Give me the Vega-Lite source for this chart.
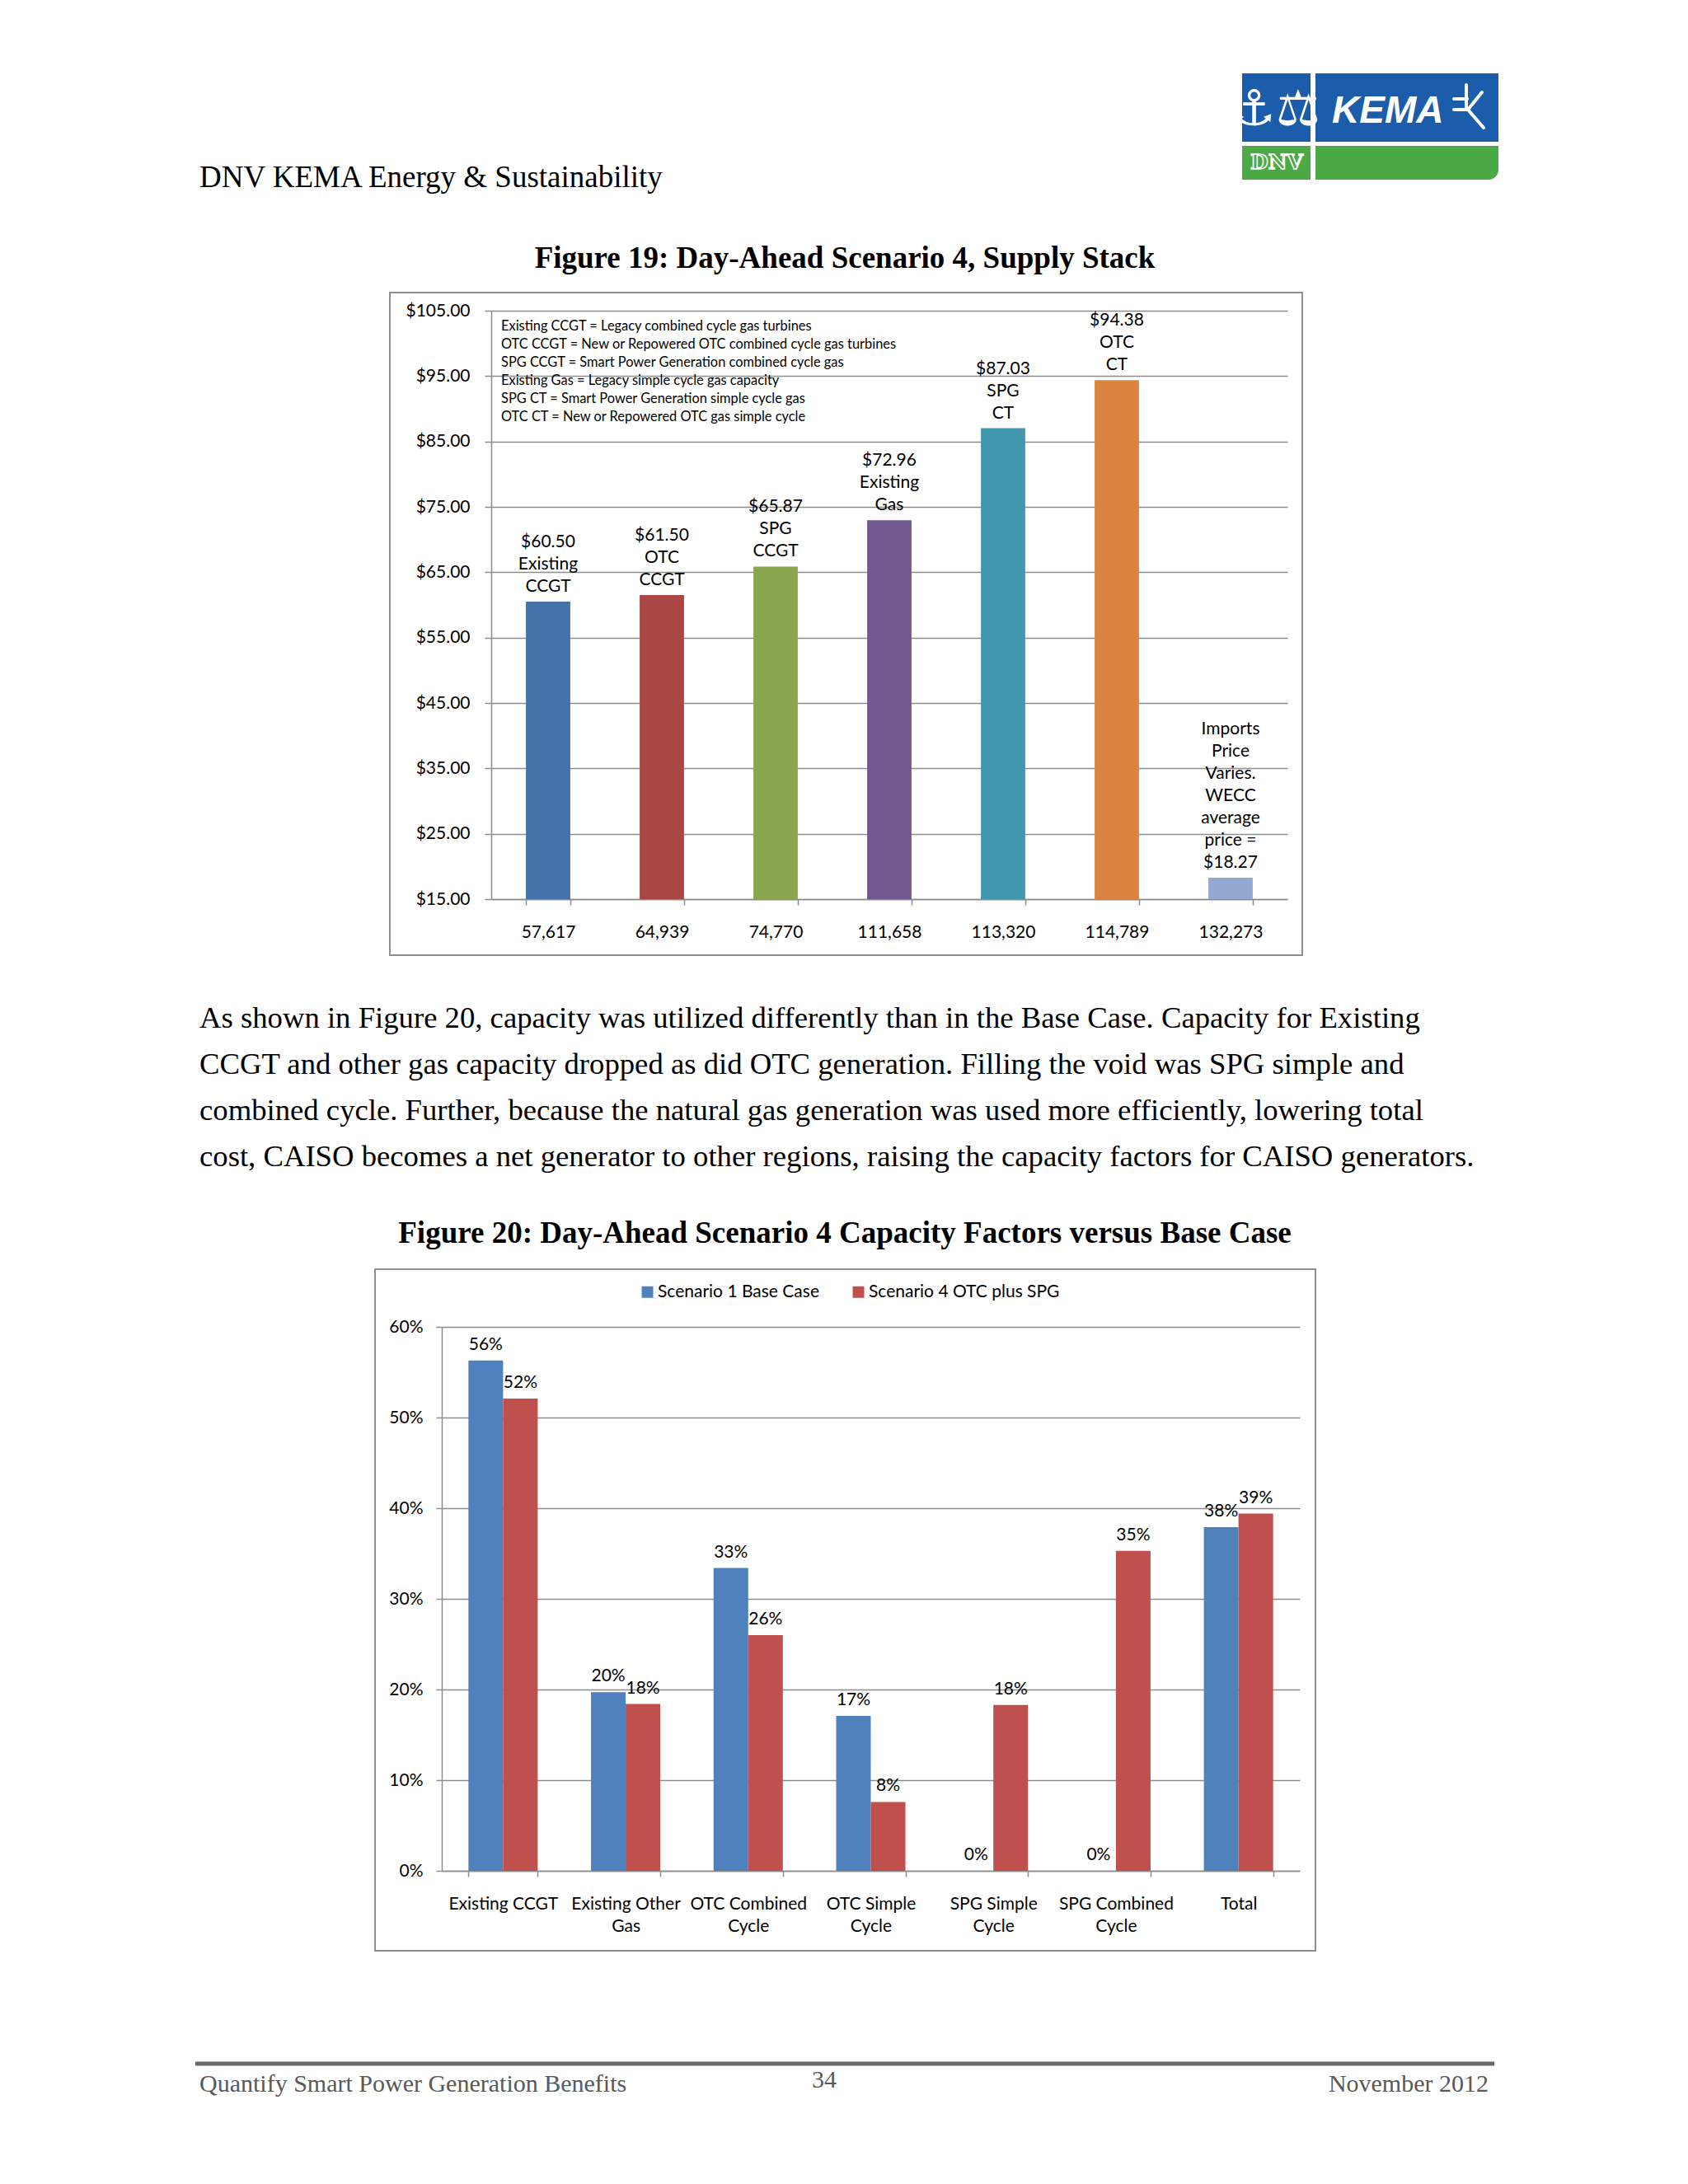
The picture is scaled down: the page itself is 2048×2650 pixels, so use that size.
{
  "$schema": "https://vega.github.io/schema/vega-lite/v6.json",
  "width": 2048,
  "height": 2650,
  "autosize": {"type": "none"},
  "padding": 0,
  "background": "#ffffff",
  "config": {
    "view": {"stroke": null},
    "font": "Lato",
    "axis": {"labelFont": "Lato", "labelFontSize": 21, "labelColor": "#000000", "domainColor": "#8c8c8c", "tickColor": "#8c8c8c", "gridColor": "#8c8c8c", "domainWidth": 1.5, "tickWidth": 1.5, "gridWidth": 1.5}
  },
  "datasets": {
    "supply": [
      {"mw": "57,617", "tech": "Existing CCGT", "price": 60.50, "label": ["$60.50", "Existing", "CCGT"]},
      {"mw": "64,939", "tech": "OTC CCGT", "price": 61.50, "label": ["$61.50", "OTC", "CCGT"]},
      {"mw": "74,770", "tech": "SPG CCGT", "price": 65.87, "label": ["$65.87", "SPG", "CCGT"]},
      {"mw": "111,658", "tech": "Existing Gas", "price": 72.96, "label": ["$72.96", "Existing", "Gas"]},
      {"mw": "113,320", "tech": "SPG CT", "price": 87.03, "label": ["$87.03", "SPG", "CT"]},
      {"mw": "114,789", "tech": "OTC CT", "price": 94.38, "label": ["$94.38", "OTC", "CT"]},
      {"mw": "132,273", "tech": "Imports", "price": 18.27, "label": ["Imports", "Price", "Varies.", "WECC", "average", "price =", "$18.27"]}
    ],
    "cf": [
      {"cat": "Existing CCGT", "scenario": "Scenario 1 Base Case", "cf": 0.563},
      {"cat": "Existing CCGT", "scenario": "Scenario 4 OTC plus SPG", "cf": 0.521},
      {"cat": "Existing Other Gas", "scenario": "Scenario 1 Base Case", "cf": 0.197},
      {"cat": "Existing Other Gas", "scenario": "Scenario 4 OTC plus SPG", "cf": 0.184},
      {"cat": "OTC Combined Cycle", "scenario": "Scenario 1 Base Case", "cf": 0.334},
      {"cat": "OTC Combined Cycle", "scenario": "Scenario 4 OTC plus SPG", "cf": 0.260},
      {"cat": "OTC Simple Cycle", "scenario": "Scenario 1 Base Case", "cf": 0.171},
      {"cat": "OTC Simple Cycle", "scenario": "Scenario 4 OTC plus SPG", "cf": 0.076},
      {"cat": "SPG Simple Cycle", "scenario": "Scenario 1 Base Case", "cf": 0},
      {"cat": "SPG Simple Cycle", "scenario": "Scenario 4 OTC plus SPG", "cf": 0.183},
      {"cat": "SPG Combined Cycle", "scenario": "Scenario 1 Base Case", "cf": 0},
      {"cat": "SPG Combined Cycle", "scenario": "Scenario 4 OTC plus SPG", "cf": 0.353},
      {"cat": "Total", "scenario": "Scenario 1 Base Case", "cf": 0.379},
      {"cat": "Total", "scenario": "Scenario 4 OTC plus SPG", "cf": 0.394}
    ],
    "para": [
      {"line": 1, "text": "As shown in Figure 20, capacity was utilized differently than in the Base Case. Capacity for Existing"},
      {"line": 2, "text": "CCGT and other gas capacity dropped as did OTC generation. Filling the void was SPG simple and"},
      {"line": 3, "text": "combined cycle. Further, because the natural gas generation was used more efficiently, lowering total"},
      {"line": 4, "text": "cost, CAISO becomes a net generator to other regions, raising the capacity factors for CAISO generators."}
    ]
  },
  "layer": [
    {
      "data": {"name": "supply"},
      "encoding": {
        "x": {"field": "mw", "type": "nominal", "sort": null,
          "scale": {"range": [596, 1562], "paddingInner": 0.61, "paddingOuter": 0.305},
          "axis": {"orient": "bottom", "offset": -1559, "title": null, "labelAngle": 0, "labelPadding": 22, "tickBand": "extent", "tickSize": 7, "grid": false, "labelOverlap": false}},
        "y": {"field": "price", "type": "quantitative",
          "scale": {"domain": [15, 105], "range": [1091, 377], "nice": false, "zero": false},
          "axis": {"orient": "left", "offset": -596, "title": null, "values": [15, 25, 35, 45, 55, 65, 75, 85, 95, 105], "format": "$.2f", "labelPadding": 18, "tickSize": 8, "grid": true}}
      },
      "layer": [
        {"mark": {"type": "bar"},
         "encoding": {
           "y2": {"datum": 15},
           "color": {"field": "tech", "type": "nominal", "sort": null, "legend": null,
             "scale": {"range": ["#4572A7", "#AA4643", "#89A54E", "#71588F", "#4198AF", "#DB843D", "#93A9CF"]}}}},
        {"transform": [{"filter": "datum.tech != 'Imports'"}],
         "mark": {"type": "text", "baseline": "bottom", "dy": -62, "font": "Lato", "fontSize": 21, "lineHeight": 27, "color": "#000000"},
         "encoding": {"text": {"field": "label"}}},
        {"transform": [{"filter": "datum.tech == 'Imports'"}],
         "mark": {"type": "text", "baseline": "bottom", "dy": -170, "font": "Lato", "fontSize": 21, "lineHeight": 27, "color": "#000000"},
         "encoding": {"text": {"field": "label"}}}
      ]
    },
    {
      "data": {"name": "cf"},
      "encoding": {
        "x": {"field": "cat", "type": "nominal", "sort": null,
          "scale": {"range": [536, 1577], "paddingInner": 0.435, "paddingOuter": 0.2175},
          "axis": {"orient": "bottom", "offset": -380, "title": null, "labelAngle": 0, "labelPadding": 22, "tickBand": "extent", "tickSize": 7, "grid": false, "labelOverlap": false, "labelLineHeight": 27, "labelLimit": 400,
            "labelExpr": "indexof(['Existing CCGT', 'Total'], datum.label) >= 0 ? datum.label : [slice(datum.label, 0, lastindexof(datum.label, ' ')), slice(datum.label, lastindexof(datum.label, ' ') + 1)]"}},
        "xOffset": {"field": "scenario", "type": "nominal"},
        "y": {"field": "cf", "type": "quantitative",
          "scale": {"domain": [0, 0.6], "range": [2270, 1610], "nice": false, "zero": false},
          "axis": {"orient": "left", "offset": -536, "title": null, "values": [0, 0.1, 0.2, 0.3, 0.4, 0.5, 0.6], "format": ".0%", "labelPadding": 16, "tickSize": 7, "grid": true}}
      },
      "layer": [
        {"mark": {"type": "bar"},
         "encoding": {
           "y2": {"datum": 0},
           "color": {"field": "scenario", "type": "nominal",
             "scale": {"domain": ["Scenario 1 Base Case", "Scenario 4 OTC plus SPG"], "range": ["#4F81BD", "#C0504D"]},
             "legend": {"orient": "none", "legendX": 775, "legendY": 1557, "direction": "horizontal", "title": null, "symbolType": "square", "symbolSize": 196, "symbolStrokeWidth": 0, "labelFont": "Lato", "labelFontSize": 21, "labelColor": "#000000", "labelOffset": 2, "columnPadding": 37, "labelLimit": 400}}}},
        {"mark": {"type": "text", "baseline": "bottom", "dy": -9, "font": "Lato", "fontSize": 21, "color": "#000000"},
         "encoding": {"text": {"field": "cf", "type": "quantitative", "format": ".0%"}}}
      ]
    },
    {
      "data": {"name": "para"},
      "mark": {"type": "text", "align": "left", "baseline": "alphabetic", "font": "Liberation Serif", "fontSize": 36.7, "color": "#000000"},
      "encoding": {
        "x": {"datum": 242, "type": "quantitative", "scale": {"domain": [0, 2048], "range": [0, 2048], "nice": false, "zero": false}, "axis": null},
        "y": {"field": "line", "type": "quantitative", "scale": {"domain": [1, 4], "range": [1247, 1415], "nice": false, "zero": false}, "axis": null},
        "text": {"field": "text"}
      }
    },
    {
      "layer": [
        {"data": {"values": [{"frame": "Figure 19"}]},
         "mark": {"type": "rect", "fillOpacity": 0, "stroke": "#8f8f8f", "strokeWidth": 2},
         "encoding": {
           "x": {"datum": 473, "type": "quantitative", "scale": {"domain": [0, 2048], "range": [0, 2048], "nice": false, "zero": false}, "axis": null},
           "x2": {"datum": 1580},
           "y": {"datum": 355, "type": "quantitative", "scale": {"domain": [0, 2650], "range": [0, 2650], "nice": false, "zero": false}, "axis": null},
           "y2": {"datum": 1159}}},
        {"data": {"values": [{"frame": "Figure 20"}]},
         "mark": {"type": "rect", "fillOpacity": 0, "stroke": "#8f8f8f", "strokeWidth": 2},
         "encoding": {
           "x": {"datum": 455, "type": "quantitative", "scale": {"domain": [0, 2048], "range": [0, 2048], "nice": false, "zero": false}, "axis": null},
           "x2": {"datum": 1596},
           "y": {"datum": 1540, "type": "quantitative", "scale": {"domain": [0, 2650], "range": [0, 2650], "nice": false, "zero": false}, "axis": null},
           "y2": {"datum": 2367}}},
        {"data": {"values": [{"text": "DNV KEMA Energy & Sustainability"}]},
         "mark": {"type": "text", "align": "left", "baseline": "alphabetic", "font": "Liberation Serif", "fontSize": 37, "color": "#000000"},
         "encoding": {
           "x": {"datum": 242, "type": "quantitative", "scale": {"domain": [0, 2048], "range": [0, 2048], "nice": false, "zero": false}, "axis": null},
           "y": {"datum": 227, "type": "quantitative", "scale": {"domain": [0, 2650], "range": [0, 2650], "nice": false, "zero": false}, "axis": null},
           "text": {"field": "text"}}},
        {"data": {"values": [{"text": "Figure 19: Day-Ahead Scenario 4, Supply Stack"}]},
         "mark": {"type": "text", "align": "center", "baseline": "alphabetic", "font": "Liberation Serif", "fontWeight": "bold", "fontSize": 37, "color": "#000000"},
         "encoding": {
           "x": {"datum": 1025, "type": "quantitative", "scale": {"domain": [0, 2048], "range": [0, 2048], "nice": false, "zero": false}, "axis": null},
           "y": {"datum": 325, "type": "quantitative", "scale": {"domain": [0, 2650], "range": [0, 2650], "nice": false, "zero": false}, "axis": null},
           "text": {"field": "text"}}},
        {"data": {"values": [{"text": "Figure 20: Day-Ahead Scenario 4 Capacity Factors versus Base Case"}]},
         "mark": {"type": "text", "align": "center", "baseline": "alphabetic", "font": "Liberation Serif", "fontWeight": "bold", "fontSize": 37, "color": "#000000"},
         "encoding": {
           "x": {"datum": 1025, "type": "quantitative", "scale": {"domain": [0, 2048], "range": [0, 2048], "nice": false, "zero": false}, "axis": null},
           "y": {"datum": 1508, "type": "quantitative", "scale": {"domain": [0, 2650], "range": [0, 2650], "nice": false, "zero": false}, "axis": null},
           "text": {"field": "text"}}},
        {"data": {"values": [{"text": ["Existing CCGT =  Legacy  combined cycle gas turbines", "OTC CCGT =  New or Repowered OTC combined cycle gas turbines", "SPG CCGT = Smart Power Generation combined cycle gas", "Existing Gas = Legacy simple cycle gas capacity", "SPG CT = Smart Power Generation simple cycle gas", "OTC CT = New or Repowered OTC gas simple cycle"]}]},
         "mark": {"type": "text", "align": "left", "baseline": "top", "font": "Lato", "fontSize": 16.4, "lineHeight": 22, "color": "#000000"},
         "encoding": {
           "x": {"datum": 608, "type": "quantitative", "scale": {"domain": [0, 2048], "range": [0, 2048], "nice": false, "zero": false}, "axis": null},
           "y": {"datum": 388, "type": "quantitative", "scale": {"domain": [0, 2650], "range": [0, 2650], "nice": false, "zero": false}, "axis": null},
           "text": {"field": "text"}}},
        {"data": {"values": [{"rule": "footer"}]},
         "mark": {"type": "rule", "color": "#6a6a6a", "strokeWidth": 5},
         "encoding": {
           "x": {"datum": 237, "type": "quantitative", "scale": {"domain": [0, 2048], "range": [0, 2048], "nice": false, "zero": false}, "axis": null},
           "x2": {"datum": 1813},
           "y": {"datum": 2504, "type": "quantitative", "scale": {"domain": [0, 2650], "range": [0, 2650], "nice": false, "zero": false}, "axis": null}}},
        {"data": {"values": [{"text": "Quantify Smart Power Generation Benefits"}]},
         "mark": {"type": "text", "align": "left", "baseline": "alphabetic", "font": "Liberation Serif", "fontSize": 30, "color": "#595959"},
         "encoding": {
           "x": {"datum": 242, "type": "quantitative", "scale": {"domain": [0, 2048], "range": [0, 2048], "nice": false, "zero": false}, "axis": null},
           "y": {"datum": 2538, "type": "quantitative", "scale": {"domain": [0, 2650], "range": [0, 2650], "nice": false, "zero": false}, "axis": null},
           "text": {"field": "text"}}},
        {"data": {"values": [{"text": "34"}]},
         "mark": {"type": "text", "align": "center", "baseline": "alphabetic", "font": "Liberation Serif", "fontSize": 30, "color": "#595959"},
         "encoding": {
           "x": {"datum": 1000, "type": "quantitative", "scale": {"domain": [0, 2048], "range": [0, 2048], "nice": false, "zero": false}, "axis": null},
           "y": {"datum": 2533, "type": "quantitative", "scale": {"domain": [0, 2650], "range": [0, 2650], "nice": false, "zero": false}, "axis": null},
           "text": {"field": "text"}}},
        {"data": {"values": [{"text": "November 2012"}]},
         "mark": {"type": "text", "align": "right", "baseline": "alphabetic", "font": "Liberation Serif", "fontSize": 30, "color": "#595959"},
         "encoding": {
           "x": {"datum": 1806, "type": "quantitative", "scale": {"domain": [0, 2048], "range": [0, 2048], "nice": false, "zero": false}, "axis": null},
           "y": {"datum": 2538, "type": "quantitative", "scale": {"domain": [0, 2650], "range": [0, 2650], "nice": false, "zero": false}, "axis": null},
           "text": {"field": "text"}}},
        {"data": {"values": [{"logo": "emblem"}]},
         "mark": {"type": "rect", "color": "#1B5DAA"},
         "encoding": {
           "x": {"datum": 1507, "type": "quantitative", "scale": {"domain": [0, 2048], "range": [0, 2048], "nice": false, "zero": false}, "axis": null},
           "x2": {"datum": 1590},
           "y": {"datum": 89, "type": "quantitative", "scale": {"domain": [0, 2650], "range": [0, 2650], "nice": false, "zero": false}, "axis": null},
           "y2": {"datum": 172}}},
        {"data": {"values": [{"logo": "name"}]},
         "mark": {"type": "rect", "color": "#1B5DAA"},
         "encoding": {
           "x": {"datum": 1596, "type": "quantitative", "scale": {"domain": [0, 2048], "range": [0, 2048], "nice": false, "zero": false}, "axis": null},
           "x2": {"datum": 1818},
           "y": {"datum": 89, "type": "quantitative", "scale": {"domain": [0, 2650], "range": [0, 2650], "nice": false, "zero": false}, "axis": null},
           "y2": {"datum": 172}}},
        {"data": {"values": [{"logo": "dnv"}]},
         "mark": {"type": "rect", "color": "#4CAA46"},
         "encoding": {
           "x": {"datum": 1507, "type": "quantitative", "scale": {"domain": [0, 2048], "range": [0, 2048], "nice": false, "zero": false}, "axis": null},
           "x2": {"datum": 1590},
           "y": {"datum": 177, "type": "quantitative", "scale": {"domain": [0, 2650], "range": [0, 2650], "nice": false, "zero": false}, "axis": null},
           "y2": {"datum": 218}}},
        {"data": {"values": [{"logo": "band"}]},
         "mark": {"type": "rect", "color": "#4CAA46", "cornerRadiusBottomRight": 12},
         "encoding": {
           "x": {"datum": 1596, "type": "quantitative", "scale": {"domain": [0, 2048], "range": [0, 2048], "nice": false, "zero": false}, "axis": null},
           "x2": {"datum": 1818},
           "y": {"datum": 177, "type": "quantitative", "scale": {"domain": [0, 2650], "range": [0, 2650], "nice": false, "zero": false}, "axis": null},
           "y2": {"datum": 218}}},
        {"data": {"values": [{"text": "KEMA"}]},
         "mark": {"type": "text", "align": "left", "baseline": "alphabetic", "font": "Liberation Sans", "fontWeight": "bold", "fontStyle": "italic", "fontSize": 46, "color": "#ffffff"},
         "encoding": {
           "x": {"datum": 1616, "type": "quantitative", "scale": {"domain": [0, 2048], "range": [0, 2048], "nice": false, "zero": false}, "axis": null},
           "y": {"datum": 149, "type": "quantitative", "scale": {"domain": [0, 2650], "range": [0, 2650], "nice": false, "zero": false}, "axis": null},
           "text": {"field": "text"}}},
        {"data": {"values": [{"text": "⚓⚖"}]},
         "mark": {"type": "text", "align": "center", "baseline": "middle", "font": "DejaVu Sans", "fontSize": 60, "color": "#ffffff"},
         "encoding": {
           "x": {"datum": 1548, "type": "quantitative", "scale": {"domain": [0, 2048], "range": [0, 2048], "nice": false, "zero": false}, "axis": null},
           "y": {"datum": 134, "type": "quantitative", "scale": {"domain": [0, 2650], "range": [0, 2650], "nice": false, "zero": false}, "axis": null},
           "text": {"field": "text"}}},
        {"data": {"values": [{"text": "DNV"}]},
         "mark": {"type": "text", "align": "center", "baseline": "middle", "font": "DejaVu Serif", "fontWeight": "bold", "fontSize": 25, "fill": "#4CAA46", "stroke": "#ffffff", "strokeWidth": 1.5},
         "encoding": {
           "x": {"datum": 1549, "type": "quantitative", "scale": {"domain": [0, 2048], "range": [0, 2048], "nice": false, "zero": false}, "axis": null},
           "y": {"datum": 197, "type": "quantitative", "scale": {"domain": [0, 2650], "range": [0, 2650], "nice": false, "zero": false}, "axis": null},
           "text": {"field": "text"}}},
        {"data": {"values": [{"stroke": "a"}]},
         "mark": {"type": "rule", "color": "#ffffff", "strokeWidth": 4, "strokeCap": "round"},
         "encoding": {
           "x": {"datum": 1779, "type": "quantitative", "scale": {"domain": [0, 2048], "range": [0, 2048], "nice": false, "zero": false}, "axis": null},
           "x2": {"datum": 1779},
           "y": {"datum": 103, "type": "quantitative", "scale": {"domain": [0, 2650], "range": [0, 2650], "nice": false, "zero": false}, "axis": null},
           "y2": {"datum": 130}}},
        {"data": {"values": [{"stroke": "b"}]},
         "mark": {"type": "rule", "color": "#ffffff", "strokeWidth": 4, "strokeCap": "round"},
         "encoding": {
           "x": {"datum": 1764, "type": "quantitative", "scale": {"domain": [0, 2048], "range": [0, 2048], "nice": false, "zero": false}, "axis": null},
           "x2": {"datum": 1780},
           "y": {"datum": 120, "type": "quantitative", "scale": {"domain": [0, 2650], "range": [0, 2650], "nice": false, "zero": false}, "axis": null},
           "y2": {"datum": 120}}},
        {"data": {"values": [{"stroke": "c"}]},
         "mark": {"type": "rule", "color": "#ffffff", "strokeWidth": 4, "strokeCap": "round"},
         "encoding": {
           "x": {"datum": 1764, "type": "quantitative", "scale": {"domain": [0, 2048], "range": [0, 2048], "nice": false, "zero": false}, "axis": null},
           "x2": {"datum": 1781},
           "y": {"datum": 133, "type": "quantitative", "scale": {"domain": [0, 2650], "range": [0, 2650], "nice": false, "zero": false}, "axis": null},
           "y2": {"datum": 133}}},
        {"data": {"values": [{"stroke": "d"}]},
         "mark": {"type": "rule", "color": "#ffffff", "strokeWidth": 4, "strokeCap": "round"},
         "encoding": {
           "x": {"datum": 1798, "type": "quantitative", "scale": {"domain": [0, 2048], "range": [0, 2048], "nice": false, "zero": false}, "axis": null},
           "x2": {"datum": 1781},
           "y": {"datum": 112, "type": "quantitative", "scale": {"domain": [0, 2650], "range": [0, 2650], "nice": false, "zero": false}, "axis": null},
           "y2": {"datum": 133}}},
        {"data": {"values": [{"stroke": "e"}]},
         "mark": {"type": "rule", "color": "#ffffff", "strokeWidth": 4, "strokeCap": "round"},
         "encoding": {
           "x": {"datum": 1781, "type": "quantitative", "scale": {"domain": [0, 2048], "range": [0, 2048], "nice": false, "zero": false}, "axis": null},
           "x2": {"datum": 1800},
           "y": {"datum": 133, "type": "quantitative", "scale": {"domain": [0, 2650], "range": [0, 2650], "nice": false, "zero": false}, "axis": null},
           "y2": {"datum": 155}}}
      ]
    }
  ],
  "resolve": {
    "scale": {"x": "independent", "y": "independent", "color": "independent"},
    "axis": {"x": "independent", "y": "independent"},
    "legend": {"color": "independent"}
  }
}
